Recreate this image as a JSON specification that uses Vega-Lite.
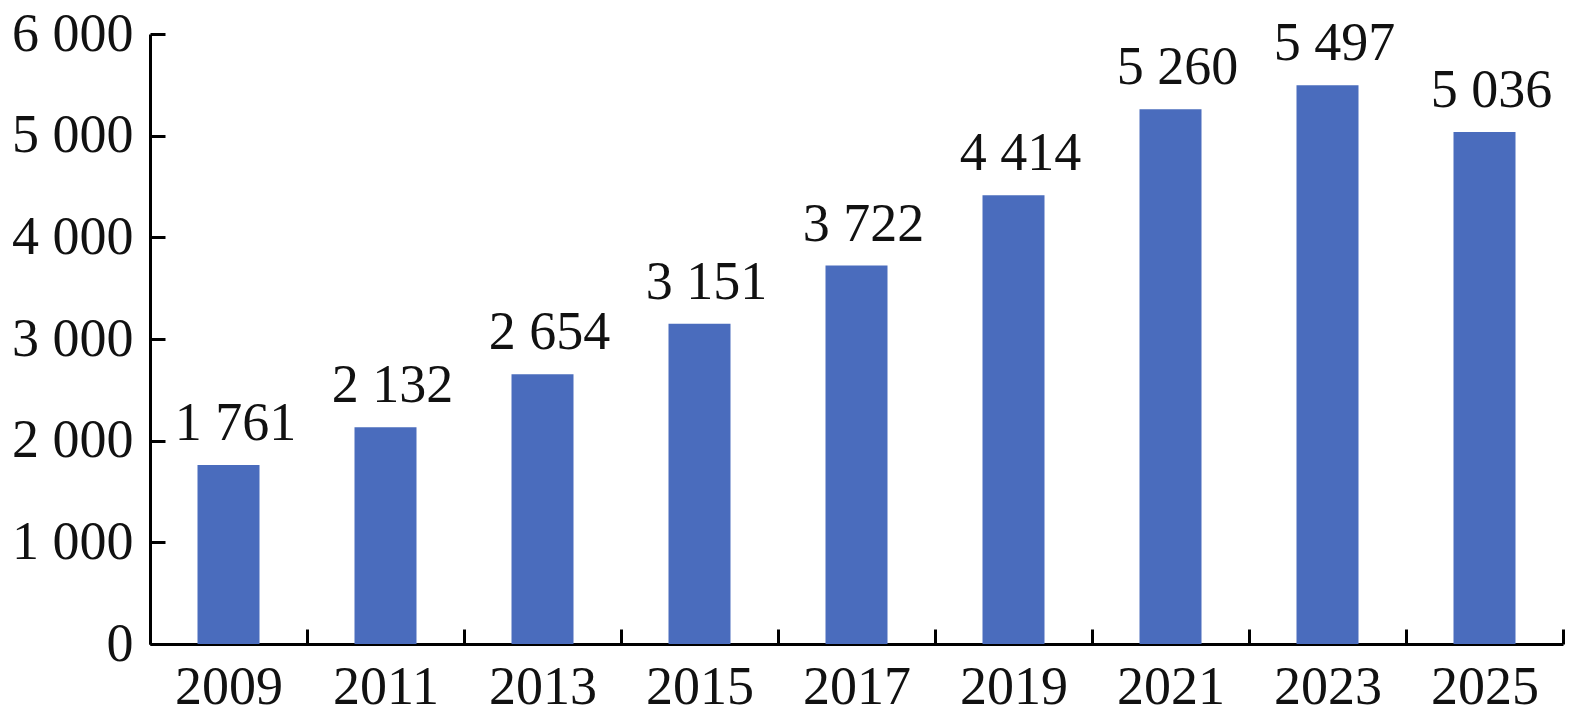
{
  "$schema": "https://vega.github.io/schema/vega-lite/v6.json",
  "autosize": {"type": "none"},
  "padding": {"left": 150, "top": 34, "right": 12, "bottom": 77},
  "width": 1413,
  "height": 610,
  "config": {
    "background": "white",
    "view": {"stroke": null},
    "font": "Liberation Serif",
    "locale": {"number": {"decimal": ".", "thousands": " ", "grouping": [3], "currency": ["", ""]}},
    "axis": {
      "domainColor": "black",
      "domainWidth": 3,
      "tickColor": "black",
      "tickWidth": 3,
      "labelColor": "#111",
      "labelFont": "Liberation Serif",
      "labelFontSize": 54,
      "grid": false,
      "title": null
    }
  },
  "data": {
    "values": [
      {"year": 2009, "value": 1761},
      {"year": 2011, "value": 2132},
      {"year": 2013, "value": 2654},
      {"year": 2015, "value": 3151},
      {"year": 2017, "value": 3722},
      {"year": 2019, "value": 4414},
      {"year": 2021, "value": 5260},
      {"year": 2023, "value": 5497},
      {"year": 2025, "value": 5036}
    ]
  },
  "encoding": {
    "x": {
      "field": "year",
      "type": "quantitative",
      "scale": {"domain": [2008, 2026], "nice": false, "zero": false, "padding": 0},
      "axis": {
        "values": [2008, 2009, 2010, 2011, 2012, 2013, 2014, 2015, 2016, 2017, 2018, 2019, 2020, 2021, 2022, 2023, 2024, 2025, 2026],
        "format": "d",
        "labelExpr": "datum.value % 2 == 1 ? datum.label : ''",
        "tickSize": -15,
        "tickOpacity": {"condition": {"test": "datum.value % 2 == 0", "value": 1}, "value": 0},
        "labelPadding": 31,
        "labelFlush": false,
        "labelOverlap": false
      }
    },
    "y": {
      "field": "value",
      "type": "quantitative",
      "scale": {"domain": [0, 6000], "nice": false},
      "axis": {
        "values": [0, 1000, 2000, 3000, 4000, 5000, 6000],
        "format": ",d",
        "tickSize": -15,
        "labelPadding": 32,
        "labelFlush": false,
        "labelOverlap": false
      }
    }
  },
  "layer": [
    {"mark": {"type": "bar", "width": 62, "color": "#4A6CBD"}},
    {
      "mark": {"type": "text", "baseline": "alphabetic", "dx": 7, "dy": -25, "fontSize": 54, "font": "Liberation Serif", "color": "#111"},
      "encoding": {"text": {"field": "value", "type": "quantitative", "format": ",d"}}
    }
  ]
}
